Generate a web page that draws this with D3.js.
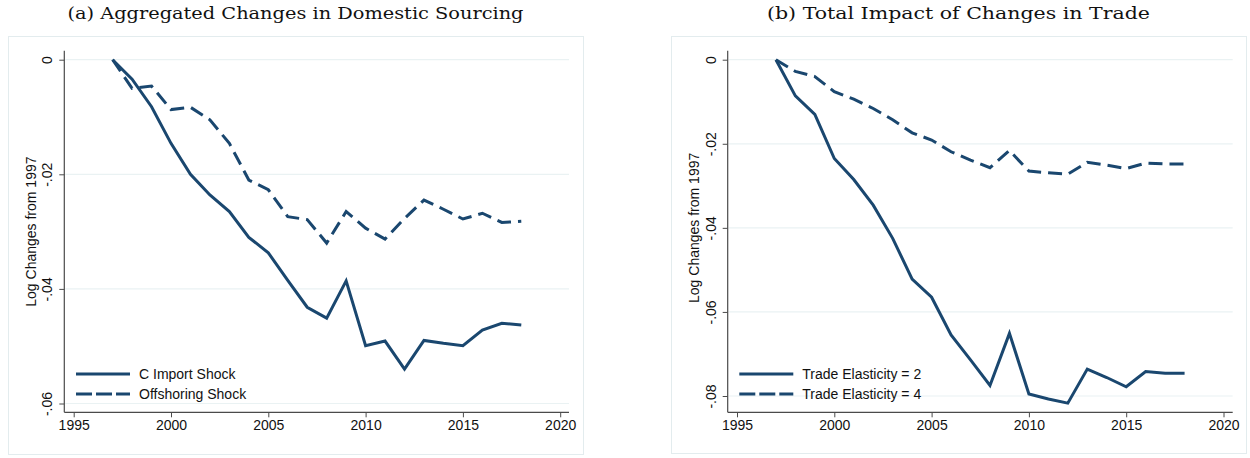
<!DOCTYPE html>
<html>
<head>
<meta charset="utf-8">
<script src="https://cdn.jsdelivr.net/npm/d3@7"></script>
<style>
  html, body { margin: 0; padding: 0; background: #ffffff; }
  svg { display: block; }
</style>
</head>
<body>
<div id="chart"></div>
<script>
// ---------------- data ----------------
const years = [1997,1998,1999,2000,2001,2002,2003,2004,2005,2006,2007,2008,2009,2010,2011,2012,2013,2014,2015,2016,2017,2018];

// Panel (a): Aggregated Changes in Domestic Sourcing
const importShock = [0,-0.0034,-0.0082,-0.0146,-0.0200,-0.0236,-0.0265,-0.0310,-0.0337,-0.0385,-0.0432,-0.0451,-0.0386,-0.0499,-0.0491,-0.0540,-0.0490,-0.0495,-0.0499,-0.0472,-0.0460,-0.0463];
const offshoringShock = [0,-0.0050,-0.0046,-0.0087,-0.0083,-0.0105,-0.0146,-0.0210,-0.0227,-0.0274,-0.0279,-0.0320,-0.0265,-0.0294,-0.0313,-0.0277,-0.0245,-0.0261,-0.0278,-0.0268,-0.0284,-0.0282];

// Panel (b): Total Impact of Changes in Trade
const elasticity2 = [0,-0.0086,-0.0130,-0.0235,-0.0285,-0.0346,-0.0425,-0.0522,-0.0565,-0.0655,-0.0714,-0.0775,-0.0651,-0.0795,-0.0807,-0.0817,-0.0736,-0.0756,-0.0778,-0.0742,-0.0746,-0.0746];
const elasticity4 = [0,-0.0028,-0.0040,-0.0076,-0.0094,-0.0116,-0.0143,-0.0174,-0.0191,-0.0219,-0.0239,-0.0257,-0.0216,-0.0265,-0.0269,-0.0272,-0.0244,-0.0251,-0.0259,-0.0246,-0.0248,-0.0248];

const xTicks = [1995, 2000, 2005, 2010, 2015, 2020];
const yTicksA = [0, -0.02, -0.04, -0.06];
const yTicksB = [0, -0.02, -0.04, -0.06, -0.08];
const yTickLabels = {"0":"0","-0.02":"-.02","-0.04":"-.04","-0.06":"-.06","-0.08":"-.08"};

const titleA = "(a) Aggregated Changes in Domestic Sourcing";
const titleB = "(b) Total Impact of Changes in Trade";
const yLabel = "Log Changes from 1997";
const legendA = ["C Import Shock", "Offshoring Shock"];
const legendB = ["Trade Elasticity = 2", "Trade Elasticity = 4"];

// ---------------- drawing ----------------
const W = 1250, H = 458;
const svg = d3.select("#chart").append("svg").attr("width", W).attr("height", H);

const LINE = "#1a476f";
const GRID = "#eaf2f3";
const FRAME = "#e3ecee";
const AXIS = "#4a4a4a";
const SANS = "'Liberation Sans', Arial, sans-serif";
const SERIF = "'DejaVu Serif', 'Liberation Serif', serif";

function panel(cfg) {
  const g = svg.append("g");
  // outer frame
  g.append("rect")
    .attr("x", cfg.box[0] + 0.5).attr("y", cfg.box[1] + 0.5)
    .attr("width", cfg.box[2] - cfg.box[0]).attr("height", cfg.box[3] - cfg.box[1])
    .attr("fill", "#ffffff").attr("stroke", FRAME).attr("stroke-width", 1);

  // title
  g.append("text")
    .attr("x", (cfg.box[0] + cfg.box[2]) / 2).attr("y", 19)
    .attr("text-anchor", "middle")
    .attr("font-family", SERIF).attr("font-size", 16.5)
    .attr("fill", "#111")
    .attr("textLength", cfg.titleWidth).attr("lengthAdjust", "spacingAndGlyphs")
    .text(cfg.title);

  const x = d3.scaleLinear().domain([1995, 2020]).range(cfg.xr);
  const y = d3.scaleLinear().domain([cfg.yMin, 0]).range(cfg.yr);

  // grid
  g.append("g").selectAll("line").data(cfg.yTicks).join("line")
    .attr("x1", cfg.axisX + 1).attr("x2", cfg.plotRight)
    .attr("y1", d => y(d)).attr("y2", d => y(d))
    .attr("stroke", GRID).attr("stroke-width", 1.2);

  // y axis
  const yAxis = d3.axisLeft(y).tickValues(cfg.yTicks).tickSize(5).tickSizeOuter(0)
    .tickFormat(d => yTickLabels[String(d)]);
  const ya = g.append("g").attr("transform", `translate(${cfg.axisX},0)`).call(yAxis);
  ya.select(".domain").remove();
  ya.selectAll(".tick line").attr("stroke", AXIS);
  ya.selectAll(".tick text")
    .attr("font-family", SANS).attr("font-size", 14).attr("fill", "#111")
    .attr("x", null)
    .attr("text-anchor", "middle")
    .attr("transform", "translate(-12,0) rotate(-90)")
    .attr("dy", "0em");
  g.append("line")
    .attr("x1", cfg.axisX).attr("x2", cfg.axisX)
    .attr("y1", cfg.axisTop).attr("y2", cfg.axisY)
    .attr("stroke", AXIS).attr("stroke-width", 1.2);

  // x axis
  const xAxis = d3.axisBottom(x).tickValues(xTicks).tickSize(5).tickSizeOuter(0).tickFormat(d3.format("d"));
  const xa = g.append("g").attr("transform", `translate(0,${cfg.axisY})`).call(xAxis);
  xa.select(".domain").remove();
  xa.selectAll(".tick line").attr("stroke", AXIS);
  xa.selectAll(".tick text")
    .attr("font-family", SANS).attr("font-size", 14).attr("fill", "#111")
    .attr("y", 8).attr("dy", "0.71em");
  g.append("line")
    .attr("x1", cfg.axisX).attr("x2", cfg.plotRight)
    .attr("y1", cfg.axisY).attr("y2", cfg.axisY)
    .attr("stroke", AXIS).attr("stroke-width", 1.2);

  // y label
  g.append("text")
    .attr("transform", `translate(${cfg.labelX},${(cfg.yr[0] + cfg.yr[1]) / 2}) rotate(-90)`)
    .attr("text-anchor", "middle")
    .attr("font-family", SANS).attr("font-size", 14).attr("fill", "#111")
    .text(yLabel);

  // lines
  const line = d3.line().x((d, i) => x(years[i])).y(d => y(d));
  g.append("path").datum(cfg.solid).attr("d", line)
    .attr("fill", "none").attr("stroke", LINE).attr("stroke-width", 3)
    .attr("stroke-linejoin", "miter").attr("stroke-linecap", "butt");
  g.append("path").datum(cfg.dashed).attr("d", line)
    .attr("fill", "none").attr("stroke", LINE).attr("stroke-width", 3)
    .attr("stroke-dasharray", "14,7").attr("stroke-linecap", "butt");

  // legend
  const lg = g.append("g");
  const items = [{lab: cfg.legend[0], dash: null, yy: 374}, {lab: cfg.legend[1], dash: "16,4", yy: 394}];
  items.forEach(it => {
    lg.append("line")
      .attr("x1", cfg.legX).attr("x2", cfg.legX + 54)
      .attr("y1", it.yy).attr("y2", it.yy)
      .attr("stroke", LINE).attr("stroke-width", 3)
      .attr("stroke-dasharray", it.dash);
    lg.append("text")
      .attr("x", cfg.legX + 63).attr("y", it.yy).attr("dy", "0.35em")
      .attr("font-family", SANS).attr("font-size", 14).attr("fill", "#111")
      .text(it.lab);
  });
}

panel({
  box: [8, 36, 583, 454],
  title: titleA, titleWidth: 456,
  xr: [73.7, 560.2], yMin: -0.06, yr: [403.5, 59.7],
  yTicks: yTicksA,
  axisX: 64.3, axisY: 412.3, axisTop: 50.7, plotRight: 569,
  labelX: 35.5,
  solid: importShock, dashed: offshoringShock,
  legend: legendA, legX: 76
});

panel({
  box: [671, 36, 1246, 453],
  title: titleB, titleWidth: 383,
  xr: [737, 1223.5], yMin: -0.08, yr: [396, 59.7],
  yTicks: yTicksB,
  axisX: 727.7, axisY: 412.3, axisTop: 50.7, plotRight: 1232.7,
  labelX: 698.5,
  solid: elasticity2, dashed: elasticity4,
  legend: legendB, legX: 739.3
});
</script>
</body>
</html>
